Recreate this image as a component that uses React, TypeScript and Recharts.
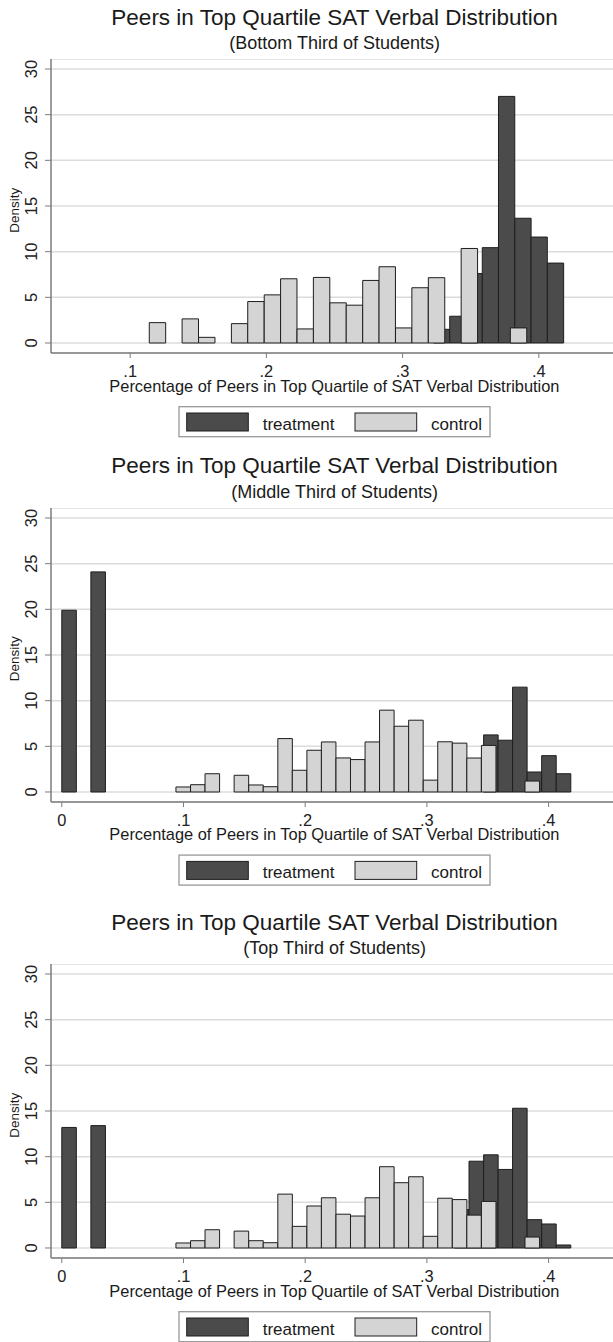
import React from "react";
import { ComposedChart, XAxis, YAxis, CartesianGrid, ReferenceArea } from "recharts";

// histogram bins: lower edge of each bin and its density
const TREAT_WIDTH = 0.01195;

const bottomTreatEdges = [0.3227, 0.3346, 0.3466, 0.3585, 0.3704, 0.3824, 0.3943, 0.4063];
const bottomTreatDensity = [1.5, 2.93, 7.6, 10.44, 27.0, 13.66, 11.6, 8.75];
const bottomCtrlWidth = 0.01205;
const bottomCtrlEdges = [
  0.114, 0.1381, 0.1502, 0.1743, 0.1863, 0.1984, 0.2104, 0.2225, 0.2345,
  0.2466, 0.2586, 0.2707, 0.2827, 0.2948, 0.3068, 0.3189, 0.343, 0.3791,
];
const bottomCtrlDensity = [
  2.23, 2.64, 0.62, 2.12, 4.54, 5.27, 7.03, 1.54, 7.18,
  4.4, 4.14, 6.85, 8.35, 1.65, 6.05, 7.15, 10.35, 1.65,
];

const middleTreatEdges = [0, 0.0239, 0.3466, 0.3585, 0.3704, 0.3824, 0.3943, 0.4063];
const middleTreatDensity = [19.9, 24.1, 6.25, 5.67, 11.48, 2.19, 3.98, 2.0];
const middleCtrlWidth = 0.01195;
const middleCtrlEdges = [
  0.0938, 0.1058, 0.1177, 0.1416, 0.1536, 0.1655, 0.1775, 0.1894, 0.2014, 0.2133, 0.2253,
  0.2372, 0.2492, 0.2611, 0.2731, 0.285, 0.297, 0.3089, 0.3209, 0.3328, 0.3448, 0.3806,
];
const middleCtrlDensity = [
  0.55, 0.8, 2.0, 1.83, 0.77, 0.58, 5.85, 2.38, 4.57, 5.48, 3.73,
  3.55, 5.48, 8.96, 7.2, 7.86, 1.3, 5.5, 5.35, 3.72, 5.1, 1.2,
];

const topTreatEdges = [0, 0.0239, 0.3227, 0.3346, 0.3466, 0.3585, 0.3704, 0.3824, 0.3943, 0.4063];
const topTreatDensity = [13.2, 13.4, 4.2, 9.5, 10.2, 8.6, 15.3, 3.1, 2.63, 0.33];
const topCtrlWidth = 0.01195;
const topCtrlEdges = middleCtrlEdges;
const topCtrlDensity = [
  0.55, 0.8, 2.0, 1.85, 0.8, 0.58, 5.9, 2.37, 4.6, 5.5, 3.7,
  3.5, 5.5, 8.9, 7.15, 7.8, 1.28, 5.45, 5.3, 3.6, 5.1, 1.2,
];

const X_TICKS_BOTTOM = [0.1, 0.2, 0.3, 0.4];
const X_TICKS = [0, 0.1, 0.2, 0.3, 0.4];
const Y_TICKS = [0, 5, 10, 15, 20, 25, 30];

const FONT = '"Liberation Sans", Arial, Helvetica, sans-serif';
const TREAT_FILL = "#4b4b4b";
const CTRL_FILL = "#d4d4d4";
const BAR_STROKE = "#1e1e1e";
const AXIS = "#7c7c7c";

const fmtX = (v: number) => (v === 0 ? "0" : String(v).replace(/^0/, ""));

const YTick = (props: any) => {
  const { x, y, payload } = props;
  const bx = x - 6;
  return (
    <text x={bx} y={y} transform={`rotate(-90 ${bx} ${y})`} textAnchor="middle"
      fontFamily={FONT} fontSize={16.4} fill="#222">
      {payload.value}
    </text>
  );
};

const XTick = (props: any) => {
  const { x, y, payload } = props;
  return (
    <text x={x} y={y + 17} textAnchor="middle" fontFamily={FONT} fontSize={16.4} fill="#222">
      {fmtX(payload.value)}
    </text>
  );
};

interface PanelProps {
  grid30: number;
  subtitle: string;
  domain: [number, number];
  ticks: number[];
  treatEdges: number[];
  treatDensity: number[];
  ctrlEdges: number[];
  ctrlDensity: number[];
  ctrlWidth: number;
}

function Panel(p: PanelProps) {
  const plotTop = p.grid30 - 10;
  const axisY = p.grid30 + 284;
  return (
    <>
      <div style={{ position: "absolute", left: 0, top: plotTop }}>
        <ComposedChart width={620} height={324} data={[]} margin={{ top: 0, right: 0, bottom: 0, left: 0 }}>
          <CartesianGrid vertical={false} stroke="#dcdcdc" strokeWidth={1.5} />
          <XAxis type="number" dataKey="x" domain={p.domain} allowDataOverflow ticks={p.ticks}
            interval={0} height={30} tickSize={5} tickMargin={2}
            axisLine={{ stroke: AXIS, strokeWidth: 1.5 }} tickLine={{ stroke: AXIS }} tick={<XTick />} />
          <YAxis type="number" domain={[-1.095, 31.095]} allowDataOverflow ticks={Y_TICKS}
            interval={0} width={51} tickSize={6} tickMargin={2}
            axisLine={{ stroke: AXIS, strokeWidth: 1.5 }} tickLine={{ stroke: AXIS }} tick={<YTick />} />
          {p.treatEdges.map((e, i) => (
            <ReferenceArea key={"t" + i} x1={e} x2={e + TREAT_WIDTH} y1={0} y2={p.treatDensity[i]}
              fill={TREAT_FILL} fillOpacity={1} stroke={BAR_STROKE} strokeWidth={1} ifOverflow="visible" />
          ))}
          {p.ctrlEdges.map((e, i) => (
            <ReferenceArea key={"c" + i} x1={e} x2={e + p.ctrlWidth} y1={0} y2={p.ctrlDensity[i]}
              fill={CTRL_FILL} fillOpacity={1} stroke={BAR_STROKE} strokeWidth={1} ifOverflow="visible" />
          ))}
        </ComposedChart>
      </div>
      <svg width={613} height={1342} style={{ position: "absolute", left: 0, top: 0, pointerEvents: "none" }}>
        <g fontFamily={FONT} fill="#1a1a1a">
          <text x={334.6} y={p.grid30 - 44.5} textAnchor="middle" fontSize={22.5}>
            Peers in Top Quartile SAT Verbal Distribution
          </text>
          <text x={334.6} y={p.grid30 - 20} textAnchor="middle" fontSize={18}>
            {p.subtitle}
          </text>
          <text x={19} y={p.grid30 + 141} transform={`rotate(-90 19 ${p.grid30 + 141})`} textAnchor="middle" fontSize={13.5}>
            Density
          </text>
          <text x={334.4} y={axisY + 38.5} textAnchor="middle" fontSize={16.4}>
            Percentage of Peers in Top Quartile of SAT Verbal Distribution
          </text>
          <rect x={179} y={axisY + 53.4} width={311} height={30} fill="#fff" stroke="#999" strokeWidth={1.3} />
          <rect x={186.7} y={axisY + 59.7} width={61.6} height={18} fill={TREAT_FILL} stroke={BAR_STROKE} strokeWidth={1} />
          <text x={262.7} y={axisY + 76.7} fontSize={17}>treatment</text>
          <rect x={355} y={axisY + 59.7} width={61.7} height={18} fill={CTRL_FILL} stroke={BAR_STROKE} strokeWidth={1} />
          <text x={431} y={axisY + 76.7} fontSize={17}>control</text>
        </g>
      </svg>
    </>
  );
}

export default function App() {
  return (
    <div style={{ position: "absolute", left: 0, top: 0, width: 613, height: 1342, overflow: "hidden", background: "#fff" }}>
      <Panel grid30={69.3} subtitle="(Bottom Third of Students)" domain={[0.04185, 0.45962]} ticks={X_TICKS_BOTTOM}
        treatEdges={bottomTreatEdges} treatDensity={bottomTreatDensity}
        ctrlEdges={bottomCtrlEdges} ctrlDensity={bottomCtrlDensity} ctrlWidth={bottomCtrlWidth} />
      <Panel grid30={517.7} subtitle="(Middle Third of Students)" domain={[-0.00887, 0.45867]} ticks={X_TICKS}
        treatEdges={middleTreatEdges} treatDensity={middleTreatDensity}
        ctrlEdges={middleCtrlEdges} ctrlDensity={middleCtrlDensity} ctrlWidth={middleCtrlWidth} />
      <Panel grid30={974.3} subtitle="(Top Third of Students)" domain={[-0.00887, 0.45867]} ticks={X_TICKS}
        treatEdges={topTreatEdges} treatDensity={topTreatDensity}
        ctrlEdges={topCtrlEdges} ctrlDensity={topCtrlDensity} ctrlWidth={topCtrlWidth} />
    </div>
  );
}
